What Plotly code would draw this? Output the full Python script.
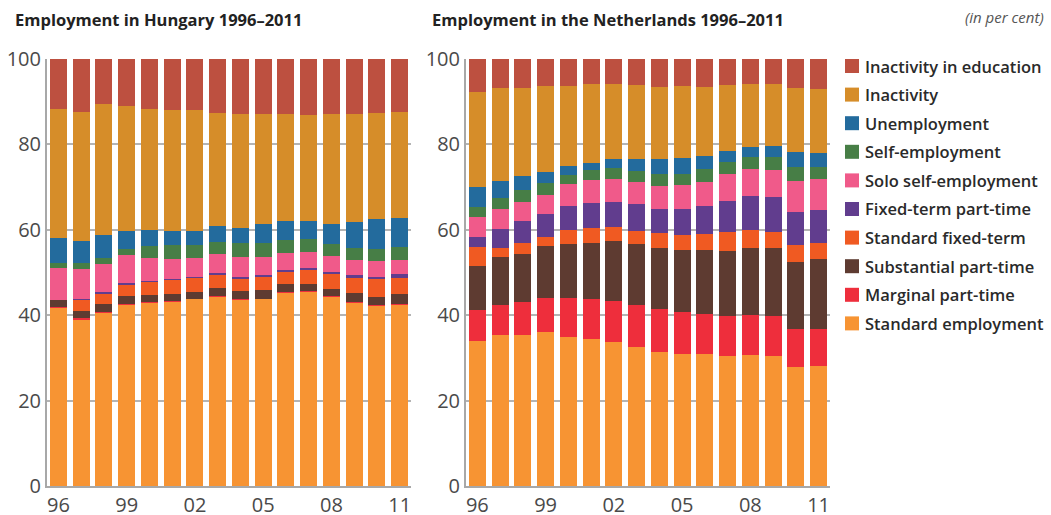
import plotly.graph_objects as go

years = ["96", "97", "98", "99", "00", "01", "02", "03", "04", "05", "06", "07", "08", "09", "10", "11"]
tick_years = ["96", "99", "02", "05", "08", "11"]

series_names = [
    "Standard employment", "Marginal part-time", "Substantial part-time",
    "Standard fixed-term", "Fixed-term part-time", "Solo self-employment",
    "Self-employment", "Unemployment", "Inactivity", "Inactivity in education",
]
colors = ["#F79433", "#EE2E3C", "#5E3B31", "#F05A22", "#613D8E",
          "#F05A8A", "#477E46", "#236B9D", "#D68D29", "#BD5040"]

# Hungary
hu_standard = [41.7, 39.1, 40.6, 42.6, 42.9, 43.3, 43.8, 44.3, 43.6, 43.8, 45.4, 45.5, 44.3, 42.9, 42.2, 42.4]
hu_marginal = [0.2, 0.3, 0.2, 0.1, 0.2, 0.1, 0.1, 0.1, 0.2, 0.1, 0.1, 0.2, 0.2, 0.2, 0.2, 0.2]
hu_substantial = [1.7, 1.6, 1.8, 1.8, 1.6, 1.6, 1.5, 2.0, 1.9, 2.0, 1.8, 1.6, 1.6, 2.1, 1.9, 2.4]
hu_std_fixed = [0.0, 2.6, 2.4, 2.6, 3.1, 3.3, 3.4, 3.2, 2.8, 3.0, 2.8, 3.3, 3.5, 3.5, 4.2, 3.7]
hu_fixed_pt = [0.0, 0.2, 0.5, 0.5, 0.3, 0.2, 0.2, 0.4, 0.4, 0.5, 0.5, 0.5, 0.5, 0.7, 0.4, 0.9]
hu_solo = [7.5, 7.0, 6.6, 6.5, 5.4, 4.7, 4.5, 4.4, 4.7, 4.2, 4.0, 3.7, 3.7, 3.5, 3.8, 3.3]
hu_self = [1.1, 1.4, 1.4, 1.4, 2.8, 3.2, 2.9, 2.7, 3.3, 3.3, 3.0, 3.0, 2.8, 2.8, 2.8, 3.1]
hu_unemp = [5.9, 5.2, 5.3, 4.2, 3.7, 3.3, 3.3, 3.8, 3.5, 4.5, 4.5, 4.3, 4.8, 6.1, 7.0, 6.8]
hu_inact = [30.2, 30.2, 30.7, 29.3, 28.3, 28.4, 28.4, 26.5, 26.7, 25.7, 25.0, 24.8, 25.7, 25.3, 24.9, 24.8]
hu_inact_edu = [11.7, 12.4, 10.5, 11.0, 11.7, 11.9, 11.9, 12.6, 12.9, 12.9, 12.9, 13.1, 12.9, 12.9, 12.6, 12.4]

# Netherlands
nl_standard = [34.0, 35.4, 35.4, 36.1, 34.9, 34.4, 33.7, 32.6, 31.4, 30.9, 30.9, 30.4, 30.7, 30.4, 27.9, 28.1]
nl_marginal = [7.2, 7.0, 7.7, 7.9, 9.1, 9.4, 9.6, 9.8, 10.1, 9.8, 9.4, 9.4, 9.3, 9.4, 8.9, 8.7]
nl_substantial = [10.3, 11.2, 11.2, 12.2, 12.7, 13.1, 14.1, 14.3, 14.2, 14.6, 15.0, 15.2, 15.7, 15.9, 15.7, 16.4]
nl_std_fixed = [4.5, 2.1, 2.6, 2.1, 3.3, 3.5, 3.3, 3.0, 3.6, 3.5, 3.7, 4.5, 4.3, 3.8, 3.9, 3.7]
nl_fixed_pt = [2.3, 4.5, 5.2, 5.4, 5.6, 5.9, 5.8, 6.3, 5.6, 6.1, 6.6, 7.2, 7.9, 8.2, 7.8, 7.7]
nl_solo = [4.7, 4.7, 4.4, 4.4, 5.1, 5.4, 5.4, 5.2, 5.4, 5.6, 5.6, 6.4, 6.3, 6.3, 7.2, 7.3]
nl_self = [2.3, 2.6, 2.8, 2.9, 2.1, 2.3, 2.6, 2.6, 2.8, 2.6, 3.0, 2.8, 2.8, 3.0, 3.3, 2.8]
nl_unemp = [4.7, 3.9, 3.3, 2.5, 2.1, 1.6, 2.1, 2.8, 3.5, 3.7, 3.1, 2.6, 2.4, 2.6, 3.5, 3.3]
nl_inact = [22.3, 21.8, 20.6, 20.2, 18.8, 18.5, 17.5, 17.3, 16.8, 16.9, 16.1, 15.4, 14.7, 14.5, 15.0, 15.0]
nl_inact_edu = [7.7, 6.8, 6.8, 6.3, 6.3, 5.9, 5.9, 6.1, 6.6, 6.3, 6.6, 6.1, 5.9, 5.9, 6.8, 7.0]

hu_series = [hu_standard, hu_marginal, hu_substantial, hu_std_fixed, hu_fixed_pt,
             hu_solo, hu_self, hu_unemp, hu_inact, hu_inact_edu]
nl_series = [nl_standard, nl_marginal, nl_substantial, nl_std_fixed, nl_fixed_pt,
             nl_solo, nl_self, nl_unemp, nl_inact, nl_inact_edu]

FONT = "Open Sans"
fig = go.Figure()
for i, (name, col) in enumerate(zip(series_names, colors)):
    fig.add_trace(go.Bar(x=years, y=hu_series[i], name=name, marker=dict(color=col, line=dict(width=0)),
                         xaxis="x", yaxis="y", showlegend=False))
    fig.add_trace(go.Bar(x=years, y=nl_series[i], name=name, marker=dict(color=col, line=dict(width=0)),
                         xaxis="x2", yaxis="y2", showlegend=False))

axis_common = dict(
    type="category", tickvals=tick_years, ticktext=tick_years,
    showgrid=False, showline=True, linecolor="#a8a8a8", linewidth=2,
    ticks="", tickfont=dict(family=FONT, size=20, color="#4a4a4a"),
    range=[-0.5, 15.5],
)
yaxis_common = dict(
    range=[0, 100], tickvals=[0, 20, 40, 60, 80, 100],
    showgrid=True, gridcolor="#b4b4b4", gridwidth=2,
    showline=True, linecolor="#a8a8a8", linewidth=2, zeroline=False,
    ticks="", tickfont=dict(family=FONT, size=20, color="#4a4a4a"),
)

L, T, B, R = 47, 59, 29, 221
PW = 1051 - L - R
PH = 515 - T - B


def px_x(x):
    return (x - L) / PW


def px_y(y):
    return (515 - B - y) / PH


shapes = []
annotations = [
    dict(text="<b>Employment in Hungary 1996–2011</b>", xref="paper", yref="paper",
         x=px_x(13), y=px_y(20), xanchor="left", yanchor="middle", showarrow=False,
         font=dict(family=FONT, size=16.5, color="#222")),
    dict(text="<b>Employment in the Netherlands 1996–2011</b>", xref="paper", yref="paper",
         x=px_x(430), y=px_y(20), xanchor="left", yanchor="middle", showarrow=False,
         font=dict(family=FONT, size=16.5, color="#222")),
    dict(text="<i>(in per cent)</i>", xref="paper", yref="paper",
         x=px_x(1046), y=px_y(17), xanchor="right", yanchor="middle", showarrow=False,
         font=dict(family=FONT, size=15, color="#555")),
]

# Legend (top item = last series)
for k, idx in enumerate(range(len(series_names) - 1, -1, -1)):
    cy = 66 + 28.6 * k
    shapes.append(dict(type="rect", xref="paper", yref="paper",
                       x0=px_x(845), x1=px_x(859), y0=px_y(cy - 7), y1=px_y(cy + 7),
                       fillcolor=colors[idx], line=dict(width=0)))
    annotations.append(dict(text=series_names[idx], xref="paper", yref="paper",
                            x=px_x(863), y=px_y(cy), xanchor="left", yanchor="middle",
                            showarrow=False,
                            font=dict(family=FONT, size=16.5, color="#2a2a2a", weight=600)))

fig.update_layout(
    width=1051, height=515,
    margin=dict(l=L, r=R, t=T, b=B, autoexpand=False),
    paper_bgcolor="white", plot_bgcolor="white",
    barmode="stack", bargap=0.25, showlegend=False,
    xaxis=dict(domain=[0, 364 / PW], anchor="y", **axis_common),
    yaxis=dict(domain=[0, 1], anchor="x", **yaxis_common),
    xaxis2=dict(domain=[419 / PW, 1], anchor="y2", **axis_common),
    yaxis2=dict(domain=[0, 1], anchor="x2", **yaxis_common),
    shapes=shapes,
    annotations=annotations,
)

fig.write_html("out.html", config={"displayModeBar": False},
               post_script="document.body.style.margin='0px';")
